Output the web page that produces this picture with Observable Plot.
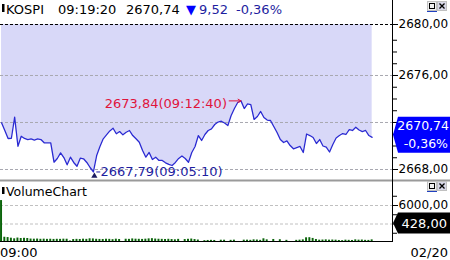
<!DOCTYPE html>
<html><head><meta charset="utf-8">
<script src="https://cdn.jsdelivr.net/npm/d3@7"></script>
<script src="https://cdn.jsdelivr.net/npm/@observablehq/plot@0.6"></script>
<style>
html,body{margin:0;padding:0;background:#fff;}
#wrap{position:relative;width:450px;height:260px;overflow:hidden;background:#fff;font-family:"DejaVu Sans",sans-serif;}
#wrap > svg{position:absolute;left:0;margin:0;}
</style></head><body><div id="wrap"></div>
<script>
// ---- data ----
const symbol = "KOSPI";
const lastTime = "09:19:20";
const lastPrice = 2670.74;
const change = 9.52;
const changePct = -0.36;
const panelTitles = ["KOSPI", "VolumeChart"];
const xLabels = ["09:00", "02/20"];
const annotTimes = ["09:05:10", "09:12:40"]; // min, max
const prices = [2671.97, 2671.32, 2670.64, 2670.66, 2672.45, 2669.98, 2670.83, 2670.64, 2670.55, 2670.60,
2670.51, 2670.60, 2670.55, 2670.27, 2670.27, 2670.27, 2668.62, 2668.94, 2669.42, 2669.02,
2668.40, 2669.05, 2668.60, 2668.28, 2668.96, 2668.91, 2668.60, 2668.17, 2667.79, 2669.19,
2669.96, 2670.61, 2670.94, 2671.28, 2671.51, 2671.04, 2671.23, 2670.95, 2671.17, 2671.32,
2670.89, 2670.61, 2670.32, 2669.62, 2669.05, 2669.45, 2668.85, 2669.05, 2668.77, 2668.77,
2668.57, 2668.43, 2668.34, 2668.60, 2668.94, 2669.15, 2668.94, 2668.62, 2669.45, 2669.96,
2670.89, 2670.47, 2670.98, 2671.32, 2671.46, 2671.83, 2672.04, 2672.11, 2671.96, 2671.74,
2672.60, 2673.19, 2673.70, 2673.84, 2673.19, 2673.59, 2673.53, 2672.26, 2672.51, 2672.94,
2672.43, 2672.21, 2672.17, 2671.66, 2671.15, 2670.55, 2670.30, 2670.43, 2670.04, 2669.76,
2669.87, 2669.96, 2669.45, 2671.02, 2670.89, 2670.72, 2670.21, 2670.55, 2670.00, 2669.90,
2669.49, 2670.13, 2670.68, 2670.89, 2671.06, 2670.98, 2671.40, 2671.32, 2671.60, 2671.36,
2671.23, 2671.32, 2670.89, 2670.74];
const volumes = [6800, 850, 800, 700, 600, 720, 650, 680, 650, 560,
540, 560, 520, 540, 510, 530, 500, 520, 510, 540,
530, 250, 480, 510, 490, 540, 510, 600, 580, 520,
500, 490, 530, 510, 460, 540, 490, 150, 530, 510,
580, 540, 520, 500, 540, 590, 620, 560, 530, 510,
490, 520, 480, 440, 510, 120, 480, 520, 560, 480,
400, 0, 300, 330, 350, 330, 0, 370, 370, 0,
350, 380, 0, 0, 380, 380, 350, 430, 400, 350,
600, 430, 0, 490, 0, 450, 0, 350, 0, 0,
350, 380, 430, 760, 780, 660, 490, 380, 400, 430,
380, 400, 380, 330, 300, 380, 350, 330, 430, 380,
400, 350, 340, 428];
const priceTicks = [2668, 2672, 2676];
const priceMinorTicks = [2668, 2669, 2670, 2671, 2672, 2673, 2674, 2675, 2676, 2677, 2678, 2679];
const volumeTicks = [3000, 6000];
const volumeMinorTicks = [1500, 4500, 7500];

// ---- setup ----
const fmt = d => d.toFixed(2).replace(".", ",");
const wrap = document.getElementById("wrap");
const xDomain = [-0.317, 119.2];
const yTop = 2680.34, yBot = 2667.064;
const pdata = prices.map((v, i) => ({i, v}));
const vdata = volumes.map((v, i) => ({i, v}));
const imin = d3.minIndex(prices), imax = d3.maxIndex(prices);
const red = "#e0143c", navy = "#1e1ea0";
const baseStyle = {fontFamily: "DejaVu Sans", fontSize: "12px", background: "transparent", color: "#000"};

const pricePlot = Plot.plot({
  width: 450, height: 181, marginLeft: 0, marginRight: 58, marginTop: 24, marginBottom: 1,
  style: baseStyle,
  x: {domain: xDomain, axis: null},
  y: {domain: [yBot, yTop], axis: null},
  marks: [
    Plot.areaY(pdata, {x: "i", y1: "v", y2: yTop, fill: "#d8d8f8"}),
    Plot.ruleY(priceTicks, {stroke: "#a8a8b0", strokeDasharray: "3,2"}),
    Plot.ruleY([yTop], {stroke: "#000", strokeDasharray: "3,2"}),
    Plot.lineY(pdata, {x: "i", y: "v", stroke: "#2a2ad2", strokeWidth: 1.3}),
    Plot.axisY(priceMinorTicks, {anchor: "right", tickSize: 4, tickFormat: () => "", label: null}),
    Plot.axisY([...priceTicks, yTop], {anchor: "right", tickSize: 5, tickPadding: 1, label: null,
      tickFormat: d => fmt(Math.round(d))}),
    // max annotation
    Plot.arrow([imax], {x1: d => d - 3.6, x2: d => d, y1: d => prices[d], y2: d => prices[d],
      stroke: red, strokeWidth: 1, headLength: 5, insetEnd: 0}),
    Plot.text([imax], {x: d => d, y: d => prices[d], text: d => fmt(prices[d]) + "(" + annotTimes[1] + ")",
      textAnchor: "end", dx: -14, dy: 3, fill: red, fontSize: 13}),
    // min annotation
    Plot.dot([imin], {x: d => d, y: d => prices[d], symbol: "triangle", r: 2.3, fill: "#1a1a60", dx: 1, dy: 4}),
    Plot.link([imin], {x1: d => d + 0.9, x2: d => d + 2.1, y1: d => prices[d], y2: d => prices[d], stroke: navy}),
    Plot.text([imin], {x: d => d, y: d => prices[d], text: d => fmt(prices[d]) + "(" + annotTimes[0] + ")",
      textAnchor: "start", dx: 7, fill: navy, fontSize: 13})
  ]
});
pricePlot.style.top = "0px";
wrap.appendChild(pricePlot);

const volPlot = Plot.plot({
  width: 450, height: 62, marginLeft: 0, marginRight: 58, marginTop: 1, marginBottom: 1,
  style: baseStyle,
  x: {domain: xDomain, axis: null},
  y: {domain: [0, 9730], axis: null},
  marks: [
    Plot.ruleY(volumeTicks, {stroke: "#c0c0c0", strokeDasharray: "3,2"}),
    Plot.rectY(vdata, {x1: d => d.i - 0.3, x2: d => d.i + 0.3, y: "v", fill: "#0b650b"}),
    Plot.axisY(volumeMinorTicks, {anchor: "right", tickSize: 4, tickFormat: () => "", label: null}),
    Plot.axisY(volumeTicks, {anchor: "right", tickSize: 5, tickPadding: 1, label: null, tickFormat: fmt})
  ]
});
volPlot.style.top = "181px";
wrap.appendChild(volPlot);

// ---- overlay: frame lines, header, labels, value boxes ----
const yPs = pricePlot.scale("y");
const yVs = volPlot.scale("y");
const yP = v => yPs.apply(v);
const yV = v => yVs.apply(v);
const svg = d3.select(wrap).append("svg")
  .attr("width", 450).attr("height", 260)
  .style("position", "absolute").style("top", "0px").style("left", "0px")
  .style("font-family", "DejaVu Sans");

// separator & frame
svg.append("rect").attr("x", 0).attr("y", 179.5).attr("width", 450).attr("height", 2).attr("fill", "#9a9a9a");
svg.append("line").attr("x1", 392.5).attr("x2", 392.5).attr("y1", 0).attr("y2", 242).attr("stroke", "#000");
svg.append("line").attr("x1", 0).attr("x2", 393).attr("y1", 241.5).attr("y2", 241.5).attr("stroke", "#000");

// header
const hdr = svg.append("g").attr("font-size", 13);
svg.append("rect").attr("x", 2).attr("y", 4).attr("width", 2.5).attr("height", 8).attr("fill", "#000");
hdr.append("text").attr("x", 6).attr("y", 14).text(symbol);
hdr.append("text").attr("x", 58).attr("y", 14).text(lastTime);
hdr.append("text").attr("x", 126).attr("y", 14).text(fmt(lastPrice));
hdr.append("text").attr("x", 186).attr("y", 14).attr("fill", "#0000ff").text("▼");
hdr.append("text").attr("x", 199).attr("y", 14).attr("fill", navy).text(fmt(change));
hdr.append("text").attr("x", 236).attr("y", 14).attr("fill", navy).text("-" + fmt(Math.abs(changePct)) + "%");

// volume title
svg.append("rect").attr("x", 2).attr("y", 187).attr("width", 2.5).attr("height", 7).attr("fill", "#000");
svg.append("text").attr("x", 6).attr("y", 196).attr("font-size", 12.5).text(panelTitles[1]);

// window buttons
function buttons(y0) {
  const g = svg.append("g");
  g.append("rect").attr("x", 427.5).attr("y", y0 + 0.5).attr("width", 9).attr("height", 9).attr("fill", "#f0f0f0").attr("stroke", "#c0c0c0");
  g.append("rect").attr("x", 429.5).attr("y", y0 + 2.5).attr("width", 5).attr("height", 5).attr("fill", "none").attr("stroke", "#000");
  g.append("rect").attr("x", 437.5).attr("y", y0 + 0.5).attr("width", 9).attr("height", 9).attr("fill", "#d8d8e8").attr("stroke", "#c0c0c0");
  g.append("path").attr("d", `M439.5,${y0 + 2.5}L444.5,${y0 + 7.5}M444.5,${y0 + 2.5}L439.5,${y0 + 7.5}`).attr("stroke", "#000").attr("stroke-width", 1.3);
  g.append("line").attr("x1", 427).attr("x2", 437).attr("y1", y0 + 10.5).attr("y2", y0 + 10.5).attr("stroke", "#2040c0");
}
buttons(1);
buttons(181);

// current price box
const cy = yP(lastPrice) - 2;
svg.append("path").attr("d", `M393,${cy}L398,${cy - 18}L450,${cy - 18}L450,${cy + 18}L398,${cy + 18}Z`).attr("fill", "#0000ff");
svg.append("text").attr("x", 449).attr("y", cy - 5).attr("text-anchor", "end").attr("fill", "#fff").attr("font-size", 12.5).text(fmt(lastPrice));
svg.append("text").attr("x", 448).attr("y", cy + 13).attr("text-anchor", "end").attr("fill", "#fff").attr("font-size", 12.5).text("-" + fmt(Math.abs(changePct)) + "%");

// current volume box
const lastVol = volumes[volumes.length - 1];
const vy = Math.min(yV(lastVol) + 181, 223);
svg.append("path").attr("d", `M393,${vy}L398,${vy - 10.5}L450,${vy - 10.5}L450,${vy + 10.5}L398,${vy + 10.5}Z`).attr("fill", "#000");
svg.append("text").attr("x", 447).attr("y", vy + 5).attr("text-anchor", "end").attr("fill", "#fff").attr("font-size", 13).text(fmt(lastVol));

// x labels
svg.append("text").attr("x", 0).attr("y", 256.5).attr("font-size", 13).text(xLabels[0]);
svg.append("text").attr("x", 448).attr("y", 256.5).attr("font-size", 13).attr("text-anchor", "end").text(xLabels[1]);
</script></body></html>
